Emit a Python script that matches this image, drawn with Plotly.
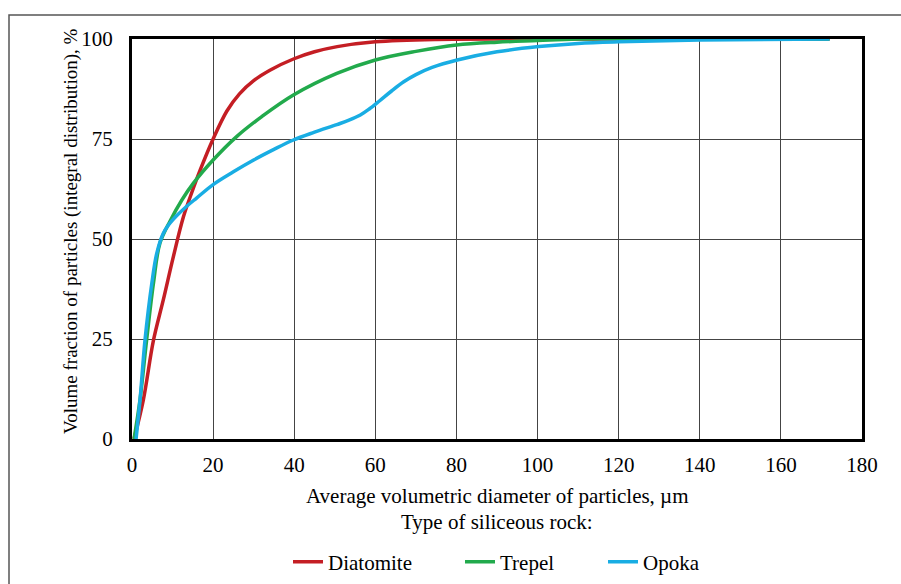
import plotly.graph_objects as go

# Particle size distribution (cumulative), siliceous rocks
diatomite_x = [0.5, 2.8, 5.3, 7.7, 10.2, 12.7, 14.7, 16.8, 20, 23.4, 26.5, 30, 34, 39.8, 45, 50.6, 60, 75, 100, 172]
diatomite_y = [0, 9.8, 24.7, 34.7, 45.6, 55.6, 61.5, 67.2, 75, 82.0, 86.3, 89.6, 92.2, 95.0, 96.8, 98.1, 99.3, 99.9, 100, 100]

trepel_x = [0.5, 2, 3.6, 5.3, 6.9, 9.4, 12.3, 15.1, 20, 25.8, 32, 39.8, 50.5, 60, 70, 80, 90, 100, 110, 172]
trepel_y = [0, 10, 24.7, 39, 49, 54.5, 59.75, 63.9, 69.75, 75.6, 80.6, 86, 91.4, 94.75, 96.9, 98.5, 99.2, 99.6, 100, 100]

opoka_x = [1, 2, 3.2, 4.9, 6.1, 7.7, 9, 11, 13.5, 16, 20, 25, 30, 35, 39.8, 45, 50.5, 53.5, 56.3, 58.5, 61,
           64, 67, 70, 74, 80.2, 90, 100.3, 110, 120, 140, 172]
opoka_y = [0, 10, 24.7, 39, 46.4, 51.4, 53.5, 55.8, 58.2, 60.3, 63.6, 66.8, 69.75, 72.4, 74.75, 76.7, 78.6, 79.7,
           81, 82.5, 84.5, 87, 89.3, 91.1, 92.9, 94.75, 96.8, 98.1, 98.9, 99.3, 99.75, 100]

x_ticks = [0, 20, 40, 60, 80, 100, 120, 140, 160, 180]
y_ticks = [0, 25, 50, 75, 100]

series = [
    ("Diatomite", diatomite_x, diatomite_y, "#C41E24", "legend", 293),
    ("Trepel", trepel_x, trepel_y, "#22AA4C", "legend2", 465),
    ("Opoka", opoka_x, opoka_y, "#19ADE3", "legend3", 608),
]

FONT = "Liberation Serif, Times New Roman, serif"
L, R, T, B = 132, 39, 39, 145
PW = 901 - L - R
PH = 584 - T - B


def px_x(px):
    return (px - L) / PW


def px_y(py):
    return (584 - B - py) / PH


fig = go.Figure()
legends = {}
for name, xs, ys, color, leg, left in series:
    fig.add_trace(go.Scatter(
        x=xs, y=ys, name=name, mode="lines", legend=leg,
        line=dict(color=color, width=3.5, shape="spline", smoothing=1),
    ))
    legends[leg] = dict(
        orientation="h", x=px_x(left - 5), xanchor="left", y=px_y(562), yanchor="middle",
        font=dict(family=FONT, size=21, color="black"),
        itemwidth=30, bgcolor="rgba(0,0,0,0)",
    )

axis_common = dict(
    showline=True, linecolor="black", linewidth=3, mirror=True,
    showgrid=True, gridcolor="#444444", gridwidth=1,
    zeroline=False, ticks="", tickfont=dict(family=FONT, size=21, color="black"),
)

fig.update_xaxes(range=[0, 180], tickvals=x_ticks, ticklabelstandoff=5, **axis_common)
fig.update_yaxes(range=[0, 100], tickvals=y_ticks, ticklabelstandoff=12, **axis_common)

fig.update_layout(
    width=901, height=584,
    margin=dict(l=L, r=R, t=T, b=B, autoexpand=False),
    paper_bgcolor="white", plot_bgcolor="white",
    font=dict(family=FONT, color="black"),
    showlegend=True,
    shapes=[
        dict(type="rect", xref="paper", yref="paper",
             x0=px_x(9), x1=1.3, y0=-0.6, y1=px_y(15),
             line=dict(color="#555555", width=1.5), layer="below"),
    ],
    annotations=[
        dict(text="Average volumetric diameter of particles, \u00b5m",
             xref="paper", yref="paper", x=0.5, y=px_y(496),
             xanchor="center", yanchor="middle", showarrow=False,
             font=dict(family=FONT, size=21, color="black")),
        dict(text="Type of siliceous rock:",
             xref="paper", yref="paper", x=0.5, y=px_y(522),
             xanchor="center", yanchor="middle", showarrow=False,
             font=dict(family=FONT, size=21, color="black")),
        dict(text="Volume fraction of particles (integral distribution), %",
             xref="paper", yref="paper", x=px_x(71), y=px_y(231),
             xanchor="center", yanchor="middle", showarrow=False, textangle=-90,
             font=dict(family=FONT, size=19, color="black")),
    ],
    **legends,
)

fig.write_html("out.html")
